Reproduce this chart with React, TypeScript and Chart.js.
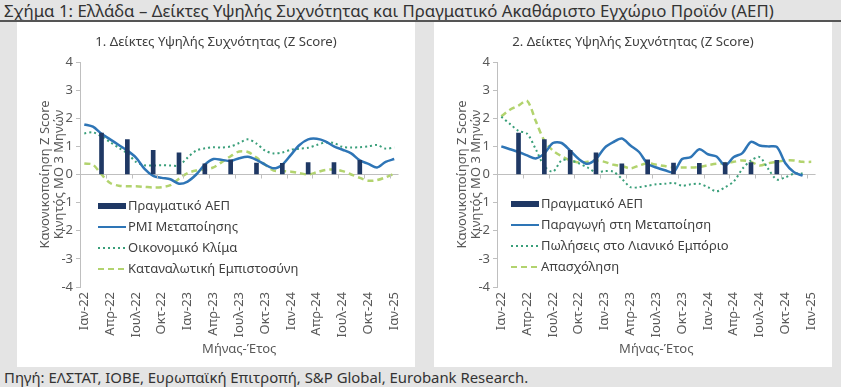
import React, { useEffect, useRef } from 'react';
import { Chart, registerables } from 'chart.js';

Chart.register(...registerables);

const FONT = "'Noto Sans', 'Open Sans', 'DejaVu Sans', sans-serif";
const TEXT = '#404040';
const AXIS = '#bfbfbf';

// Monthly categories Jan-22 .. Jan-25
const months: string[] = [
  'Ιαν-22', 'Φεβ-22', 'Μαρ-22', 'Απρ-22', 'Μαϊ-22', 'Ιουν-22', 'Ιουλ-22', 'Αυγ-22', 'Σεπ-22', 'Οκτ-22', 'Νοε-22', 'Δεκ-22',
  'Ιαν-23', 'Φεβ-23', 'Μαρ-23', 'Απρ-23', 'Μαϊ-23', 'Ιουν-23', 'Ιουλ-23', 'Αυγ-23', 'Σεπ-23', 'Οκτ-23', 'Νοε-23', 'Δεκ-23',
  'Ιαν-24', 'Φεβ-24', 'Μαρ-24', 'Απρ-24', 'Μαϊ-24', 'Ιουν-24', 'Ιουλ-24', 'Αυγ-24', 'Σεπ-24', 'Οκτ-24', 'Νοε-24', 'Δεκ-24',
  'Ιαν-25',
];

// Quarterly real GDP (Z score), placed at the last month of each quarter
const gdpMonths: string[] = ['Μαρ-22', 'Ιουν-22', 'Σεπ-22', 'Δεκ-22', 'Μαρ-23', 'Ιουν-23', 'Σεπ-23', 'Δεκ-23', 'Μαρ-24', 'Ιουν-24', 'Σεπ-24'];
const gdpValues: number[] = [1.47, 1.24, 0.86, 0.77, 0.38, 0.52, 0.41, 0.4, 0.42, 0.42, 0.5];

// Panel 1
const pmiManufacturing: (number | null)[] = [
  1.78, 1.7, 1.45, 1.25, 1.05, 0.85, 0.6, 0.2, -0.05, -0.12, -0.17, -0.33,
  -0.25, 0.0, 0.35, 0.55, 0.52, 0.48, 0.58, 0.63, 0.52, 0.35, 0.22, 0.35,
  0.7, 1.05, 1.25, 1.27, 1.18, 1.0, 0.88, 0.75, 0.5, 0.38, 0.25, 0.45,
  0.55,
];
const economicClimate: (number | null)[] = [
  1.46, 1.5, 1.35, 1.15, 0.95, 0.75, 0.45, 0.33, 0.32, 0.33, 0.32, 0.32,
  0.6, 0.85, 0.93, 0.97, 0.96, 1.0, 1.12, 1.25, 1.1, 0.85, 0.75, 0.78,
  0.88, 0.92, 0.95, 1.05, 1.14, 1.12, 0.98, 0.96, 0.97, 1.0, 1.05, 0.92,
  0.96,
];
const consumerConfidence: (number | null)[] = [
  0.39, 0.35, 0.0, -0.3, -0.4, -0.42, -0.42, -0.44, -0.46, -0.45, -0.38, -0.15,
  0.05, 0.14, 0.18, 0.25, 0.45, 0.65, 0.82, 0.8, 0.6, 0.35, 0.14, 0.12,
  0.1, 0.05, 0.0, 0.08, 0.16, 0.18, 0.12, 0.0, -0.12, -0.22, -0.2, -0.1,
  0.03,
];

// Panel 2
const manufacturingProduction: (number | null)[] = [
  1.0, 0.9, 0.8, 0.68, 0.57, 0.75, 1.12, 1.12, 0.85, 0.55, 0.38, 0.55,
  0.95, 1.15, 1.28, 1.03, 0.8, 0.38, 0.25, 0.15, 0.08, 0.55, 0.62, 0.9,
  0.72, 0.64, 0.32, 0.62, 0.76, 1.16, 1.03, 1.0, 0.98, 0.4, 0.08, -0.04,
  null,
];
const retailSales: (number | null)[] = [
  2.05, 1.8, 1.55, 1.45, 0.9, 0.3, 0.1, 0.5, 0.5, 0.4, 0.25, 0.08,
  0.12, 0.1, -0.15, -0.45, -0.45, -0.4, -0.35, -0.33, -0.3, -0.4, -0.35, -0.33,
  -0.45, -0.6, -0.45, -0.25, 0.2, 0.5, 0.62, 0.2, -0.18, -0.1, 0.03, 0.04,
  null,
];
const employment: (number | null)[] = [
  2.07, 2.3, 2.45, 2.62, 1.9, 1.2, 0.85, 0.65, 0.5, 0.43, 0.45, 0.5,
  0.45, 0.35, 0.3, 0.22, 0.32, 0.4, 0.35, 0.3, 0.25, 0.25, 0.25, 0.27,
  0.33, 0.38, 0.4, 0.45, 0.5, 0.45, 0.32, 0.4, 0.45, 0.5, 0.5, 0.45,
  0.45,
];

const yTicks: number[] = [-4, -3, -2, -1, 0, 1, 2, 3, 4];

const gdpSeries = months.map((m) => {
  const i = gdpMonths.indexOf(m);
  return i >= 0 ? gdpValues[i] : null;
});

const COL_BAR = '#1f3864';
const COL_SOLID = '#2e75b6';
const COL_DOT = '#3a9f7a';
const COL_DASH = '#b2d36e';

const legendPlugin = {
  id: 'panelLegend',
  afterDraw(chart: any, _args: any, opts: any) {
    const { ctx, chartArea } = chart;
    if (!opts || !opts.display) return;
    const x0 = chartArea.left + opts.dx;
    let y = chartArea.top + opts.dy;
    ctx.save();
    ctx.font = `13px ${FONT}`;
    ctx.textBaseline = 'middle';
    ctx.textAlign = 'left';
    chart.data.datasets.forEach((ds: any) => {
      if (ds.type === 'bar') {
        ctx.fillStyle = ds.backgroundColor;
        ctx.fillRect(x0, y - 3, 28, 6);
      } else {
        ctx.strokeStyle = ds.borderColor;
        ctx.lineWidth = 2;
        ctx.setLineDash(ds.borderDash || []);
        ctx.beginPath();
        ctx.moveTo(x0, y);
        ctx.lineTo(x0 + 28, y);
        ctx.stroke();
        ctx.setLineDash([]);
      }
      ctx.fillStyle = TEXT;
      ctx.fillText(ds.label, x0 + 30, y);
      y += opts.step;
    });
    ctx.restore();
  },
};

const zeroTicksPlugin = {
  id: 'zeroTicks',
  afterDatasetsDraw(chart: any) {
    const { ctx } = chart;
    const xs = chart.scales.x;
    const ys = chart.scales.y;
    const y0 = ys.getPixelForValue(0);
    ctx.save();
    ctx.strokeStyle = AXIS;
    ctx.lineWidth = 1;
    for (let i = 2; i + 1 < months.length; i += 3) {
      const px = (xs.getPixelForValue(i) + xs.getPixelForValue(i + 1)) / 2;
      ctx.beginPath();
      ctx.moveTo(Math.round(px) + 0.5, y0);
      ctx.lineTo(Math.round(px) + 0.5, y0 + 4);
      ctx.stroke();
    }
    ctx.restore();
  },
};

type LineDef = { label: string; data: (number | null)[]; color: string; dash: number[]; width: number };

function buildConfig(lines: LineDef[], padRight: number, legendDx: number, legendDy: number) {
  const datasets: any[] = [
    {
      type: 'bar',
      label: 'Πραγματικό ΑΕΠ',
      data: gdpSeries,
      backgroundColor: COL_BAR,
      borderWidth: 0,
      barThickness: 4,
      order: 0,
    },
    ...lines.map((l, k) => ({
      type: 'line',
      label: l.label,
      data: l.data,
      borderColor: l.color,
      backgroundColor: l.color,
      borderDash: l.dash,
      borderWidth: l.width,
      pointRadius: 0,
      tension: 0.3,
      spanGaps: false,
      fill: false,
      order: 1 + k,
    })),
  ];
  return {
    data: { labels: months, datasets },
    options: {
      animation: false,
      responsive: false,
      maintainAspectRatio: false,
      layout: { padding: { top: 40, right: padRight, bottom: 10, left: 0 } },
      plugins: {
        legend: { display: false },
        tooltip: { enabled: false },
        title: { display: false },
        panelLegend: { display: true, dx: legendDx, dy: legendDy, step: 21 },
      },
      scales: {
        x: {
          type: 'category',
          offset: true,
          grid: { display: false, drawTicks: false },
          border: { display: false },
          ticks: {
            autoSkip: false,
            minRotation: 90,
            maxRotation: 90,
            padding: 5,
            color: '#595959',
            font: { family: FONT, size: 13 },
            callback: (_v: any, i: number) => (i % 3 === 0 ? months[i] : ''),
          },
          title: {
            display: true,
            text: 'Μήνας-Έτος',
            color: '#595959',
            font: { family: FONT, size: 13 },
            padding: { top: 2, bottom: 0 },
          },
          afterFit: (s: any) => {
            s.height = 70;
          },
        },
        y: {
          min: yTicks[0],
          max: yTicks[yTicks.length - 1],
          afterBuildTicks: (s: any) => {
            s.ticks = yTicks.map((v) => ({ value: v }));
          },
          ticks: {
            color: '#595959',
            padding: 3,
            font: { family: FONT, size: 13 },
          },
          grid: {
            color: (c: any) => (c.tick && c.tick.value === 0 ? AXIS : 'rgba(0,0,0,0)'),
            tickColor: AXIS,
            tickLength: 4,
            lineWidth: 1,
          },
          border: { display: true, color: AXIS, width: 1 },
          title: {
            display: true,
            text: ['Κανονικοποίηση Z Score', 'Κινητός ΜΟ 3 Μηνών'],
            color: '#595959',
            font: { family: FONT, size: 13, lineHeight: 1.1 },
            padding: { top: 21, bottom: 0 },
          },
          afterFit: (s: any) => {
            s.width = 63;
          },
        },
      },
    },
    plugins: [legendPlugin, zeroTicksPlugin],
  };
}

function Panel(props: { left: number; title: string; lines: LineDef[]; padRight: number; legendDx: number; legendDy: number }) {
  const ref = useRef<HTMLCanvasElement | null>(null);
  useEffect(() => {
    if (!ref.current) return;
    const cfg: any = buildConfig(props.lines, props.padRight, props.legendDx, props.legendDy);
    const chart = new Chart(ref.current, cfg);
    return () => chart.destroy();
  }, []);
  return (
    <div
      style={{
        position: 'absolute',
        left: props.left,
        top: 22,
        width: 398,
        height: 345,
        background: '#ffffff',
      }}
    >
      <canvas ref={ref} width={398} height={345} style={{ position: 'absolute', left: 0, top: 0, width: 398, height: 345 }} />
      <div
        style={{
          position: 'absolute',
          left: 0,
          top: 9,
          width: 398,
          textAlign: 'center',
          fontFamily: FONT,
          fontSize: 13.2,
          color: TEXT,
          lineHeight: '20px',
        }}
      >
        {props.title}
      </div>
    </div>
  );
}

export default function App() {
  useEffect(() => {
    document.body.style.margin = '0';
  }, []);
  const leftLines: LineDef[] = [
    { label: 'PMI Μεταποίησης', data: pmiManufacturing, color: COL_SOLID, dash: [], width: 2.5 },
    { label: 'Οικονομικό Κλίμα', data: economicClimate, color: COL_DOT, dash: [2, 3], width: 2 },
    { label: 'Καταναλωτική Εμπιστοσύνη', data: consumerConfidence, color: COL_DASH, dash: [6, 4], width: 2.5 },
  ];
  const rightLines: LineDef[] = [
    { label: 'Παραγωγή στη Μεταποίηση', data: manufacturingProduction, color: COL_SOLID, dash: [], width: 2.5 },
    { label: 'Πωλήσεις στο Λιανικό Εμπόριο', data: retailSales, color: COL_DOT, dash: [2, 3], width: 2 },
    { label: 'Απασχόληση', data: employment, color: COL_DASH, dash: [6, 4], width: 2.5 },
  ];
  return (
    <div style={{ position: 'fixed', left: 0, top: 0, width: 841, height: 387, background: '#e4e4e4', overflow: 'hidden' }}>
      <div
        style={{
          position: 'absolute',
          left: 4,
          top: 0,
          fontFamily: FONT,
          fontSize: 16.8,
          color: '#333333',
          lineHeight: '21px',
          whiteSpace: 'nowrap',
        }}
      >
        Σχήμα 1: Ελλάδα – Δείκτες Υψηλής Συχνότητας και Πραγματικό Ακαθάριστο Εγχώριο Προϊόν (ΑΕΠ)
      </div>
      <div style={{ position: 'absolute', left: 0, top: 20, width: 841, height: 2, background: '#555555' }} />
      <Panel left={17} title="1. Δείκτες Υψηλής Συχνότητας (Z Score)" lines={leftLines} padRight={12} legendDx={18} legendDy={144} />
      <Panel left={434} title="2. Δείκτες Υψηλής Συχνότητας (Z Score)" lines={rightLines} padRight={10} legendDx={14} legendDy={142} />
      <div
        style={{
          position: 'absolute',
          left: 4,
          top: 368,
          fontFamily: FONT,
          fontSize: 14.9,
          color: '#333333',
          lineHeight: '18px',
          whiteSpace: 'nowrap',
        }}
      >
        Πηγή: ΕΛΣΤΑΤ, ΙΟΒΕ, Ευρωπαϊκή Επιτροπή, S&P Global, Eurobank Research.
      </div>
    </div>
  );
}
